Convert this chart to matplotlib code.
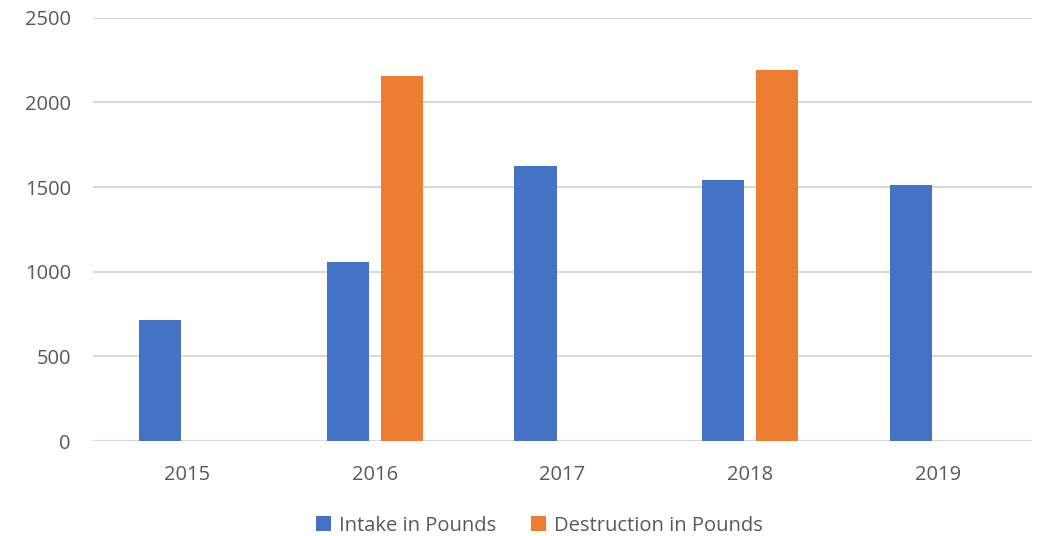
import numpy as np
import matplotlib.pyplot as plt

years = ["2015", "2016", "2017", "2018", "2019"]
intake = [714, 1055, 1624, 1544, 1512]
destruction = [np.nan, 2153, np.nan, 2189, np.nan]

plt.rcParams['font.family'] = ['Open Sans', 'DejaVu Sans']
text_color = "#595959"

fig = plt.figure(figsize=(10.43, 5.36), dpi=100)
ax = fig.add_axes([0.0892, 0.1772, 0.9003, 0.7898])

x = np.arange(len(years))
width = 0.224
offset = 0.144
ax.bar(x - offset, intake, width, color="#4472C4", label="Intake in Pounds", zorder=3)
ax.bar(x + offset, destruction, width, color="#ED7D31", label="Destruction in Pounds", zorder=3)

ax.set_xlim(-0.5, len(years) - 0.5)
ax.set_ylim(0, 2500)
ax.set_yticks(range(0, 2501, 500))
ax.set_xticks(x)
ax.set_xticklabels(years)
ax.yaxis.grid(True, color="#d9d9d9", linewidth=1.5, zorder=0)
for s in ax.spines.values():
    s.set_visible(False)
ax.tick_params(axis="both", length=0, labelsize=14.5, colors=text_color)
ax.tick_params(axis="y", pad=16)
ax.tick_params(axis="x", pad=17)

fig.legend(loc="center", bbox_to_anchor=(0.517, 0.019), ncol=2, frameon=False,
           fontsize=14.5, labelcolor=text_color, handlelength=0.75, handleheight=0.75,
           handletextpad=0.4, columnspacing=1.7)

fig.savefig("out.png", dpi=100)
